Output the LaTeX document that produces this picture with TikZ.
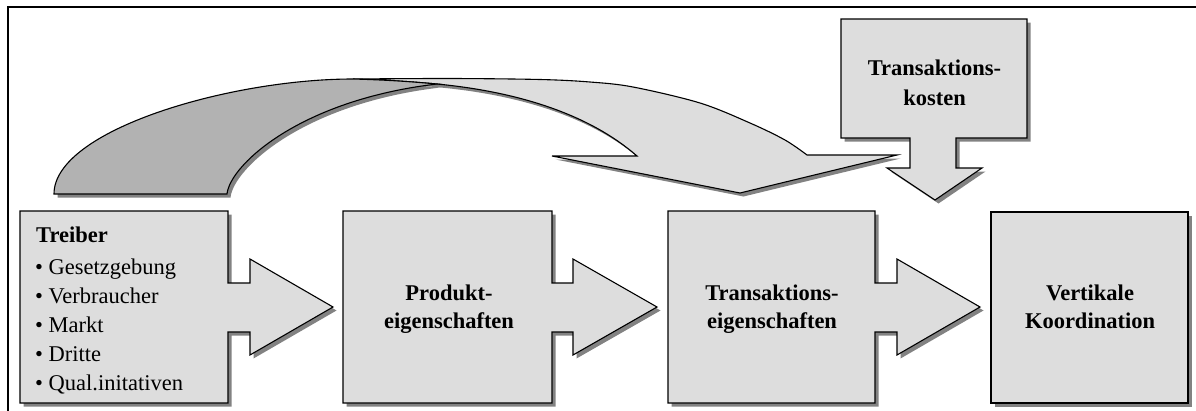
\documentclass[tikz,border=0pt]{standalone}
\usepackage{fontspec}
\setmainfont{Liberation Serif}
\definecolor{panelgray}{HTML}{DDDDDD}
\definecolor{ribbondark}{HTML}{B2B2B2}
\definecolor{shadowgray}{HTML}{828282}

% outlines of the curved ribbon arrow (pixel-like units, y pointing down)
\def\ribbonback{(54,194) .. controls (54,130) and (230,79) .. (353,79)
  .. controls (390,80) and (415,82) .. (437,84)
  .. controls (300,100) and (230,165) .. (227,194) -- cycle}
\def\ribbonfront{(353,79) -- plot[smooth, tension=0.55] coordinates
  {(353,79) (450,78.5) (540,79.5) (590,82) (633,87) (700,103) (750,123) (785,140) (807,155)}
  -- (897,155) -- (740,193) -- (552,156) -- (637,156)
  .. controls (590,115) and (520,92) .. (437,84)
  .. controls (415,82) and (390,80) .. (353,79) -- cycle}

\begin{document}
\begin{tikzpicture}[x=1pt,y=-1pt,
  panel/.style={fill=panelgray, draw=black, line width=1.1pt, line join=miter},
  darkpanel/.style={fill=ribbondark, draw=black, line width=1.1pt},
  castshadow/.style={fill=shadowgray, shift={(3.5,3.5)}},
  boxshadow/.style={preaction={fill=shadowgray, transform canvas={shift={(3.5pt,-3.5pt)}}}},
  frameline/.style={draw=black, line width=1.2pt},
  label/.style={inner sep=0pt, font=\fontsize{22.5}{27}\selectfont\bfseries},
  item/.style={inner sep=0pt, anchor=base west, font=\fontsize{22.5}{27}\selectfont}]

\useasboundingbox (0,0) rectangle (1196,410);

% frame
\draw[frameline] (8,412) -- (8,7) -- (1197,7);

% curved arrow from the drivers to the transaction properties
\fill[castshadow] \ribbonfront;
\fill[castshadow] \ribbonback;
\filldraw[panel] \ribbonfront;
\filldraw[darkpanel] \ribbonback;

% transaction costs box with downward arrow
\filldraw[panel, boxshadow] (841,19) -- (1027,19) -- (1027,138) -- (956,138) -- (956,168)
  -- (982,168) -- (935,200) -- (887,168) -- (910,168) -- (910,138) -- (841,138) -- cycle;
\node[label] (kosten1) at (934.5,75) [anchor=base] {Transaktions-};
\node[label] (kosten2) at (934.5,105) [anchor=base] {kosten};

% drivers box
\filldraw[panel, boxshadow] (20,211) -- (228,211) -- (228,283) -- (250,283) -- (250,259)
  -- (333,307) -- (250,355) -- (250,332) -- (228,332) -- (228,403) -- (20,403) -- cycle;
\node[label, anchor=base west] (treiber) at (36,242) {Treiber};
\node[item] (i1) at (35,274) {• Gesetzgebung};
\node[item] (i2) at (35,303) {• Verbraucher};
\node[item] (i3) at (35,332) {• Markt};
\node[item] (i4) at (35,361) {• Dritte};
\node[item] (i5) at (35,390) {• Qual.initativen};

% product properties
\filldraw[panel, boxshadow] (343,211) -- (552,211) -- (552,283) -- (573,283) -- (573,259)
  -- (657,307) -- (573,355) -- (573,332) -- (552,332) -- (552,403) -- (343,403) -- cycle;
\node[label, anchor=base] (prod1) at (449,300) {Produkt-};
\node[label, anchor=base] (prod2) at (449,328) {eigenschaften};

% transaction properties
\filldraw[panel, boxshadow] (668,211) -- (875,211) -- (875,283) -- (897,283) -- (897,259)
  -- (980,307) -- (897,355) -- (897,332) -- (875,332) -- (875,403) -- (668,403) -- cycle;
\node[label, anchor=base] (trans1) at (772,300) {Transaktions-};
\node[label, anchor=base] (trans2) at (772,328) {eigenschaften};

% vertical coordination
\filldraw[panel, boxshadow] (991,212) -- (1188,212) -- (1188,403) -- (991,403) -- cycle;
\node[label, anchor=base] (vert1) at (1090,300) {Vertikale};
\node[label, anchor=base] (vert2) at (1090,328) {Koordination};

\end{tikzpicture}
\end{document}
